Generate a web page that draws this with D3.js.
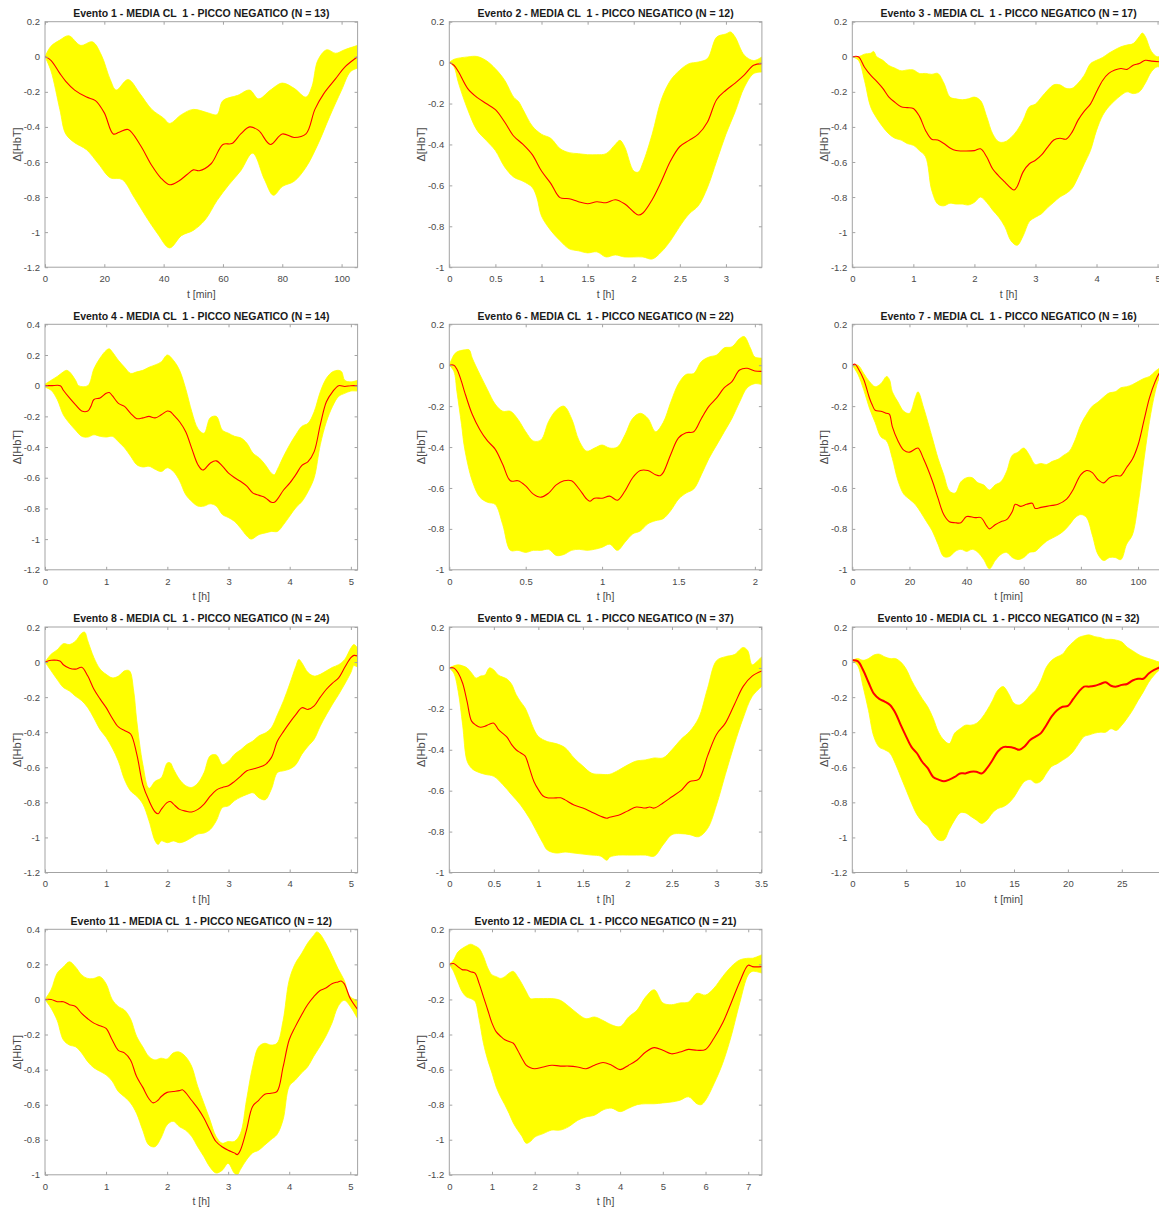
<!DOCTYPE html>
<html>
<head>
<meta charset="utf-8">
<script src="https://cdn.jsdelivr.net/npm/d3@7"></script>
<style>
  html, body { margin: 0; padding: 0; background: #fff; overflow: hidden; }
  svg { display: block; font-family: "Liberation Sans", Arial, Helvetica, sans-serif; }
</style>
</head>
<body>
<svg id="chart" width="1159" height="1209"></svg>
<script>
// ---------------- DATA ----------------
const titles = [
  "Evento 1 - MEDIA CL  1 - PICCO NEGATICO (N = 13)",
  "Evento 2 - MEDIA CL  1 - PICCO NEGATICO (N = 12)",
  "Evento 3 - MEDIA CL  1 - PICCO NEGATICO (N = 17)",
  "Evento 4 - MEDIA CL  1 - PICCO NEGATICO (N = 14)",
  "Evento 6 - MEDIA CL  1 - PICCO NEGATICO (N = 22)",
  "Evento 7 - MEDIA CL  1 - PICCO NEGATICO (N = 16)",
  "Evento 8 - MEDIA CL  1 - PICCO NEGATICO (N = 24)",
  "Evento 9 - MEDIA CL  1 - PICCO NEGATICO (N = 37)",
  "Evento 10 - MEDIA CL  1 - PICCO NEGATICO (N = 32)",
  "Evento 11 - MEDIA CL  1 - PICCO NEGATICO (N = 12)",
  "Evento 12 - MEDIA CL  1 - PICCO NEGATICO (N = 21)"
];
const xLabels = ["t [min]","t [h]","t [h]","t [h]","t [h]","t [min]","t [h]","t [h]","t [min]","t [h]","t [h]"];
const yLabel = "\u0394[HbT]";
const xMax = [105.4, 3.39, 5.12, 5.11, 2.046, 109.4, 5.11, 3.51, 29.0, 5.12, 7.32];
const xTickStep = [20, 0.5, 1, 1, 0.5, 20, 1, 0.5, 5, 1, 1];
const yMin = [-1.2, -1, -1.2, -1.2, -1, -1, -1.2, -1, -1.2, -1, -1.2];
const yMax = [0.2, 0.2, 0.2, 0.4, 0.2, 0.2, 0.2, 0.2, 0.2, 0.4, 0.2];
const yTickStep = 0.2;

// Evento 1
const mean1 = [[0,0],[2,-0.02],[5,-0.095],[7,-0.14],[10,-0.19],[14,-0.23],[17,-0.25],[20,-0.32],[23,-0.44],[25,-0.43],[28,-0.415],[32,-0.5],[36,-0.62],[39,-0.69],[42,-0.73],[45,-0.71],[48,-0.67],[50,-0.645],[52,-0.65],[56,-0.61],[60,-0.5],[63,-0.495],[66,-0.44],[69,-0.4],[72,-0.42],[76,-0.5],[80,-0.44],[84,-0.46],[88,-0.44],[91,-0.3],[94,-0.21],[98,-0.125],[101,-0.06],[105.4,0]];
const upper1 = [[0,0],[2,0.06],[5,0.095],[8,0.12],[12,0.065],[16,0.085],[19,0.01],[22,-0.13],[24,-0.19],[28,-0.13],[32,-0.21],[36,-0.3],[40,-0.35],[42,-0.38],[46,-0.33],[50,-0.3],[55,-0.32],[58,-0.33],[60,-0.25],[65,-0.22],[69,-0.19],[72,-0.24],[76,-0.19],[80,-0.15],[84,-0.18],[88,-0.23],[90,-0.17],[92,-0.02],[95,0.04],[98,0.02],[101,0.04],[105.4,0.065]];
const lower1 = [[0,0],[2,-0.08],[5,-0.3],[7,-0.44],[10,-0.49],[14,-0.53],[18,-0.61],[22,-0.69],[26,-0.7],[30,-0.8],[34,-0.91],[38,-1.01],[42,-1.09],[46,-1.02],[50,-0.99],[54,-0.93],[58,-0.82],[62,-0.73],[66,-0.65],[70,-0.55],[74,-0.7],[77,-0.79],[80,-0.74],[84,-0.71],[88,-0.63],[92,-0.5],[96,-0.34],[100,-0.19],[103,-0.085],[105.4,-0.065]];

// Evento 2
const mean2 = [[0,0],[0.05,-0.013],[0.1,-0.045],[0.2,-0.127],[0.3,-0.17],[0.4,-0.2],[0.5,-0.23],[0.6,-0.29],[0.7,-0.36],[0.8,-0.4],[0.9,-0.45],[1.0,-0.53],[1.1,-0.59],[1.2,-0.66],[1.3,-0.665],[1.4,-0.68],[1.5,-0.69],[1.6,-0.68],[1.7,-0.685],[1.8,-0.67],[1.9,-0.69],[2.0,-0.73],[2.05,-0.745],[2.1,-0.735],[2.2,-0.67],[2.3,-0.58],[2.4,-0.48],[2.5,-0.41],[2.6,-0.38],[2.7,-0.35],[2.8,-0.29],[2.9,-0.18],[3.0,-0.135],[3.1,-0.1],[3.2,-0.06],[3.3,-0.013],[3.39,-0.005]];
const upper2 = [[0,0],[0.05,0.016],[0.2,0.028],[0.3,0.03],[0.4,0.01],[0.5,-0.03],[0.6,-0.086],[0.7,-0.17],[0.75,-0.19],[0.8,-0.23],[0.9,-0.31],[1.0,-0.35],[1.1,-0.37],[1.2,-0.42],[1.3,-0.44],[1.4,-0.445],[1.5,-0.45],[1.6,-0.45],[1.7,-0.445],[1.8,-0.4],[1.85,-0.38],[1.9,-0.41],[2.0,-0.53],[2.05,-0.535],[2.1,-0.49],[2.2,-0.35],[2.3,-0.18],[2.4,-0.086],[2.5,-0.037],[2.6,-0.005],[2.7,0.003],[2.8,0.02],[2.9,0.125],[3.0,0.14],[3.05,0.15],[3.1,0.125],[3.2,0.036],[3.3,0.01],[3.39,0.028]];
const lower2 = [[0,0],[0.05,-0.02],[0.1,-0.1],[0.2,-0.23],[0.3,-0.33],[0.4,-0.38],[0.5,-0.43],[0.6,-0.51],[0.7,-0.56],[0.8,-0.58],[0.9,-0.61],[0.95,-0.66],[1.0,-0.75],[1.1,-0.82],[1.2,-0.87],[1.3,-0.91],[1.4,-0.92],[1.5,-0.93],[1.6,-0.925],[1.7,-0.95],[1.8,-0.94],[1.9,-0.95],[2.0,-0.95],[2.1,-0.95],[2.2,-0.96],[2.3,-0.925],[2.4,-0.87],[2.5,-0.8],[2.6,-0.74],[2.7,-0.7],[2.8,-0.61],[2.9,-0.48],[3.0,-0.35],[3.1,-0.24],[3.2,-0.12],[3.3,-0.054],[3.39,-0.046]];

// Evento 3
const mean3 = [[0,0],[0.1,0],[0.2,-0.06],[0.3,-0.105],[0.4,-0.14],[0.5,-0.18],[0.6,-0.23],[0.7,-0.26],[0.8,-0.285],[0.9,-0.29],[1.0,-0.295],[1.1,-0.34],[1.2,-0.42],[1.3,-0.47],[1.4,-0.475],[1.5,-0.495],[1.6,-0.52],[1.7,-0.535],[1.8,-0.537],[2.0,-0.535],[2.1,-0.525],[2.2,-0.57],[2.3,-0.64],[2.4,-0.68],[2.5,-0.715],[2.6,-0.75],[2.65,-0.76],[2.7,-0.74],[2.8,-0.655],[2.9,-0.61],[3.0,-0.59],[3.1,-0.56],[3.2,-0.515],[3.3,-0.475],[3.4,-0.465],[3.5,-0.47],[3.6,-0.43],[3.7,-0.36],[3.8,-0.31],[3.9,-0.27],[4.0,-0.2],[4.1,-0.135],[4.2,-0.095],[4.3,-0.076],[4.4,-0.067],[4.5,-0.072],[4.6,-0.048],[4.7,-0.038],[4.8,-0.02],[4.9,-0.025],[5.12,-0.03]];
const upper3 = [[0,0],[0.1,0],[0.2,0.015],[0.3,0.02],[0.35,0.03],[0.4,0],[0.5,-0.02],[0.6,-0.05],[0.7,-0.065],[0.8,-0.08],[0.9,-0.075],[1.0,-0.075],[1.1,-0.095],[1.2,-0.095],[1.3,-0.1],[1.4,-0.095],[1.5,-0.15],[1.6,-0.23],[1.7,-0.24],[1.8,-0.245],[1.9,-0.24],[2.0,-0.23],[2.1,-0.25],[2.2,-0.34],[2.3,-0.44],[2.4,-0.485],[2.5,-0.485],[2.6,-0.46],[2.7,-0.42],[2.8,-0.36],[2.9,-0.285],[3.0,-0.27],[3.1,-0.23],[3.2,-0.19],[3.3,-0.16],[3.4,-0.16],[3.5,-0.18],[3.6,-0.18],[3.7,-0.15],[3.8,-0.105],[3.9,-0.04],[4.0,-0.02],[4.1,-0.004],[4.2,0.02],[4.3,0.04],[4.4,0.057],[4.5,0.067],[4.6,0.075],[4.7,0.115],[4.75,0.135],[4.8,0.115],[4.9,0.03],[5.0,0],[5.12,0.02]];
const lower3 = [[0,0],[0.1,-0.02],[0.2,-0.135],[0.3,-0.285],[0.4,-0.35],[0.5,-0.4],[0.6,-0.44],[0.7,-0.465],[0.8,-0.475],[0.9,-0.495],[1.0,-0.505],[1.1,-0.535],[1.2,-0.57],[1.3,-0.76],[1.4,-0.84],[1.5,-0.85],[1.6,-0.835],[1.7,-0.84],[1.8,-0.84],[1.9,-0.845],[2.0,-0.83],[2.1,-0.8],[2.2,-0.83],[2.3,-0.875],[2.4,-0.915],[2.5,-0.97],[2.6,-1.05],[2.7,-1.075],[2.8,-1.02],[2.9,-0.94],[3.0,-0.915],[3.1,-0.895],[3.2,-0.86],[3.3,-0.83],[3.4,-0.8],[3.5,-0.78],[3.6,-0.75],[3.7,-0.685],[3.8,-0.61],[3.9,-0.535],[4.0,-0.42],[4.1,-0.335],[4.2,-0.285],[4.3,-0.25],[4.4,-0.22],[4.5,-0.2],[4.6,-0.21],[4.7,-0.2],[4.8,-0.15],[4.9,-0.085],[5.0,-0.057],[5.12,-0.076]];

// Evento 4
const mean4 = [[0,0],[0.1,0],[0.25,0],[0.3,-0.03],[0.4,-0.08],[0.5,-0.125],[0.6,-0.165],[0.7,-0.165],[0.75,-0.135],[0.8,-0.09],[0.9,-0.08],[1.0,-0.05],[1.05,-0.045],[1.1,-0.065],[1.2,-0.115],[1.3,-0.135],[1.4,-0.18],[1.5,-0.215],[1.6,-0.21],[1.7,-0.2],[1.8,-0.21],[1.9,-0.19],[2.0,-0.165],[2.05,-0.17],[2.1,-0.19],[2.2,-0.235],[2.3,-0.3],[2.4,-0.41],[2.5,-0.515],[2.58,-0.55],[2.7,-0.505],[2.8,-0.49],[2.9,-0.525],[3.0,-0.57],[3.1,-0.6],[3.2,-0.625],[3.3,-0.655],[3.4,-0.7],[3.5,-0.715],[3.6,-0.73],[3.7,-0.76],[3.75,-0.76],[3.8,-0.74],[3.9,-0.68],[4.0,-0.635],[4.1,-0.58],[4.2,-0.52],[4.3,-0.495],[4.4,-0.43],[4.5,-0.255],[4.6,-0.105],[4.7,-0.04],[4.8,0],[4.9,-0.005],[5.0,0],[5.11,0]];
const upper4 = [[0,0.01],[0.1,0.035],[0.2,0.06],[0.3,0.09],[0.35,0.1],[0.4,0.09],[0.5,0.035],[0.55,0],[0.7,0],[0.8,0.11],[0.9,0.18],[1.0,0.23],[1.05,0.24],[1.1,0.22],[1.2,0.165],[1.3,0.12],[1.4,0.08],[1.5,0.09],[1.6,0.1],[1.7,0.12],[1.8,0.135],[1.9,0.155],[2.0,0.2],[2.1,0.165],[2.2,0.1],[2.3,-0.02],[2.4,-0.17],[2.5,-0.28],[2.6,-0.31],[2.7,-0.21],[2.8,-0.2],[2.9,-0.29],[3.0,-0.31],[3.1,-0.33],[3.2,-0.34],[3.3,-0.375],[3.4,-0.44],[3.5,-0.47],[3.6,-0.515],[3.7,-0.57],[3.75,-0.58],[3.8,-0.545],[3.9,-0.46],[4.0,-0.385],[4.1,-0.32],[4.2,-0.265],[4.3,-0.245],[4.4,-0.17],[4.5,-0.04],[4.6,0.048],[4.7,0.09],[4.8,0.1],[4.85,0.09],[4.9,0.035],[5.0,0.025],[5.11,0.035]];
const lower4 = [[0,-0.01],[0.1,-0.03],[0.2,-0.09],[0.3,-0.19],[0.4,-0.245],[0.5,-0.29],[0.6,-0.33],[0.7,-0.335],[0.8,-0.32],[0.9,-0.33],[1.0,-0.335],[1.1,-0.33],[1.2,-0.365],[1.3,-0.405],[1.4,-0.46],[1.5,-0.515],[1.6,-0.53],[1.7,-0.525],[1.8,-0.545],[1.9,-0.56],[2.0,-0.535],[2.1,-0.56],[2.2,-0.62],[2.3,-0.71],[2.4,-0.755],[2.5,-0.785],[2.6,-0.785],[2.7,-0.77],[2.8,-0.785],[2.9,-0.84],[3.0,-0.86],[3.1,-0.885],[3.2,-0.93],[3.3,-0.98],[3.37,-1.0],[3.5,-0.97],[3.6,-0.96],[3.7,-0.95],[3.8,-0.95],[3.9,-0.905],[4.0,-0.85],[4.1,-0.795],[4.2,-0.755],[4.3,-0.69],[4.4,-0.6],[4.5,-0.385],[4.6,-0.235],[4.7,-0.135],[4.8,-0.07],[4.9,-0.05],[5.0,-0.035],[5.11,-0.035]];

// Evento 6
const mean6 = [[0,0],[0.03,0],[0.05,-0.02],[0.08,-0.08],[0.1,-0.13],[0.15,-0.24],[0.2,-0.315],[0.25,-0.37],[0.3,-0.41],[0.35,-0.485],[0.4,-0.565],[0.45,-0.565],[0.5,-0.59],[0.55,-0.63],[0.6,-0.645],[0.65,-0.625],[0.7,-0.585],[0.75,-0.565],[0.8,-0.565],[0.85,-0.605],[0.9,-0.655],[0.92,-0.665],[0.95,-0.65],[1.0,-0.65],[1.05,-0.64],[1.1,-0.66],[1.15,-0.615],[1.2,-0.55],[1.25,-0.515],[1.3,-0.515],[1.35,-0.535],[1.38,-0.54],[1.4,-0.525],[1.45,-0.435],[1.5,-0.355],[1.55,-0.33],[1.6,-0.325],[1.65,-0.26],[1.7,-0.2],[1.75,-0.16],[1.8,-0.11],[1.85,-0.08],[1.9,-0.023],[1.95,-0.015],[2.0,-0.028],[2.046,-0.03]];
const upper6 = [[0,0],[0.03,0.05],[0.05,0.065],[0.1,0.075],[0.13,0.075],[0.15,0.035],[0.2,-0.045],[0.25,-0.12],[0.3,-0.19],[0.35,-0.225],[0.4,-0.225],[0.45,-0.265],[0.5,-0.325],[0.55,-0.37],[0.6,-0.365],[0.65,-0.275],[0.7,-0.22],[0.75,-0.2],[0.8,-0.26],[0.85,-0.37],[0.9,-0.42],[0.95,-0.405],[1.0,-0.39],[1.05,-0.405],[1.1,-0.4],[1.15,-0.34],[1.2,-0.26],[1.25,-0.235],[1.3,-0.26],[1.35,-0.325],[1.4,-0.28],[1.45,-0.18],[1.5,-0.09],[1.55,-0.045],[1.6,-0.04],[1.65,0.018],[1.7,0.04],[1.75,0.05],[1.8,0.085],[1.85,0.09],[1.9,0.13],[1.93,0.14],[1.97,0.085],[2.0,0.04],[2.046,0.035]];
const lower6 = [[0,0],[0.03,-0.03],[0.05,-0.13],[0.08,-0.29],[0.1,-0.405],[0.15,-0.565],[0.2,-0.645],[0.25,-0.67],[0.3,-0.68],[0.35,-0.78],[0.4,-0.905],[0.45,-0.905],[0.5,-0.915],[0.55,-0.905],[0.6,-0.905],[0.65,-0.9],[0.7,-0.93],[0.75,-0.925],[0.8,-0.905],[0.85,-0.9],[0.9,-0.905],[0.95,-0.9],[1.0,-0.89],[1.05,-0.875],[1.1,-0.905],[1.15,-0.865],[1.2,-0.825],[1.25,-0.81],[1.3,-0.775],[1.35,-0.76],[1.4,-0.75],[1.45,-0.71],[1.5,-0.655],[1.55,-0.625],[1.6,-0.605],[1.65,-0.535],[1.7,-0.455],[1.75,-0.39],[1.8,-0.325],[1.85,-0.26],[1.9,-0.18],[1.95,-0.11],[2.0,-0.09],[2.046,-0.095]];

// Evento 7
const mean7 = [[0,0],[1,0.005],[2,-0.015],[4,-0.07],[6,-0.16],[7,-0.195],[8,-0.22],[10,-0.225],[12,-0.235],[13,-0.24],[14,-0.3],[16,-0.37],[18,-0.415],[20,-0.425],[22,-0.41],[23,-0.405],[25,-0.46],[28,-0.565],[30,-0.65],[32,-0.73],[34,-0.765],[36,-0.77],[38,-0.77],[40,-0.74],[43,-0.745],[45,-0.745],[47,-0.785],[48,-0.8],[50,-0.78],[52,-0.765],[54,-0.755],[56,-0.715],[57,-0.68],[59,-0.69],[61,-0.68],[63,-0.675],[64,-0.7],[66,-0.695],[68,-0.69],[70,-0.685],[72,-0.68],[75,-0.655],[77,-0.615],[80,-0.535],[82,-0.515],[84,-0.525],[86,-0.56],[88,-0.575],[90,-0.55],[92,-0.54],[94,-0.54],[96,-0.5],[98,-0.46],[100,-0.39],[102,-0.275],[104,-0.16],[106,-0.08],[107.4,-0.04],[109.4,-0.01]];
const upper7 = [[0,0],[2,0],[4,-0.04],[6,-0.08],[8,-0.105],[10,-0.09],[12,-0.055],[13,-0.07],[14,-0.13],[16,-0.18],[18,-0.225],[20,-0.235],[22,-0.16],[23,-0.13],[25,-0.21],[28,-0.355],[30,-0.455],[32,-0.535],[34,-0.615],[36,-0.625],[38,-0.57],[40,-0.55],[42,-0.55],[44,-0.575],[46,-0.585],[48,-0.61],[50,-0.585],[52,-0.57],[54,-0.52],[56,-0.44],[58,-0.425],[60,-0.405],[62,-0.44],[64,-0.485],[66,-0.48],[68,-0.485],[70,-0.47],[72,-0.46],[74,-0.44],[76,-0.42],[78,-0.365],[80,-0.29],[82,-0.24],[84,-0.2],[86,-0.18],[88,-0.155],[90,-0.135],[92,-0.13],[94,-0.11],[96,-0.105],[98,-0.095],[100,-0.08],[102,-0.065],[104,-0.055],[106,-0.03],[107.4,-0.015],[109.4,0]];
const lower7 = [[0,0],[2,-0.045],[4,-0.12],[6,-0.21],[8,-0.28],[10,-0.35],[12,-0.37],[14,-0.455],[16,-0.565],[18,-0.63],[20,-0.655],[22,-0.68],[24,-0.72],[26,-0.765],[28,-0.81],[30,-0.875],[32,-0.935],[34,-0.935],[36,-0.91],[38,-0.9],[40,-0.91],[42,-0.9],[44,-0.915],[46,-0.95],[48,-0.995],[50,-0.955],[52,-0.925],[54,-0.915],[56,-0.94],[58,-0.95],[60,-0.94],[62,-0.915],[64,-0.91],[66,-0.885],[68,-0.86],[70,-0.845],[72,-0.83],[74,-0.81],[76,-0.78],[78,-0.745],[80,-0.73],[82,-0.745],[84,-0.83],[86,-0.925],[88,-0.955],[90,-0.94],[92,-0.94],[94,-0.95],[96,-0.875],[98,-0.83],[100,-0.68],[102,-0.47],[104,-0.275],[106,-0.13],[107.4,-0.065],[109.4,-0.03]];

// Evento 8
const mean8 = [[0,0],[0.1,0.01],[0.2,0.01],[0.25,0.005],[0.3,-0.015],[0.4,-0.035],[0.5,-0.04],[0.6,-0.03],[0.7,-0.08],[0.8,-0.155],[0.9,-0.21],[1.0,-0.26],[1.1,-0.32],[1.2,-0.37],[1.3,-0.39],[1.4,-0.41],[1.5,-0.525],[1.6,-0.7],[1.7,-0.79],[1.8,-0.855],[1.85,-0.865],[1.9,-0.84],[2.0,-0.8],[2.05,-0.795],[2.1,-0.81],[2.2,-0.84],[2.3,-0.85],[2.4,-0.855],[2.5,-0.84],[2.6,-0.81],[2.7,-0.765],[2.8,-0.73],[2.9,-0.715],[3.0,-0.705],[3.1,-0.68],[3.2,-0.65],[3.3,-0.62],[3.4,-0.61],[3.5,-0.6],[3.6,-0.585],[3.7,-0.545],[3.8,-0.45],[3.9,-0.395],[4.0,-0.345],[4.1,-0.3],[4.2,-0.26],[4.3,-0.27],[4.4,-0.25],[4.5,-0.2],[4.6,-0.155],[4.7,-0.12],[4.8,-0.09],[4.9,-0.03],[5.0,0.025],[5.05,0.038],[5.11,0.035]];
const upper8 = [[0,0],[0.1,0.045],[0.2,0.07],[0.3,0.105],[0.4,0.1],[0.5,0.12],[0.6,0.165],[0.65,0.17],[0.7,0.12],[0.8,0.025],[0.9,-0.04],[1.0,-0.07],[1.1,-0.09],[1.2,-0.08],[1.3,-0.05],[1.38,-0.05],[1.45,-0.165],[1.5,-0.335],[1.6,-0.585],[1.7,-0.72],[1.8,-0.68],[1.9,-0.66],[2.0,-0.575],[2.05,-0.575],[2.1,-0.61],[2.2,-0.67],[2.3,-0.705],[2.4,-0.715],[2.5,-0.69],[2.6,-0.63],[2.7,-0.535],[2.8,-0.53],[2.9,-0.585],[3.0,-0.565],[3.1,-0.525],[3.2,-0.5],[3.3,-0.47],[3.4,-0.45],[3.5,-0.42],[3.6,-0.405],[3.7,-0.375],[3.8,-0.3],[3.9,-0.22],[4.0,-0.125],[4.1,-0.025],[4.15,0.015],[4.2,-0.005],[4.3,-0.06],[4.4,-0.08],[4.5,-0.07],[4.6,-0.05],[4.7,-0.03],[4.8,-0.015],[4.9,0.015],[5.0,0.08],[5.05,0.1],[5.11,0.08]];
const lower8 = [[0,0],[0.1,-0.05],[0.2,-0.1],[0.3,-0.145],[0.4,-0.165],[0.5,-0.195],[0.6,-0.22],[0.7,-0.26],[0.8,-0.32],[0.9,-0.385],[1.0,-0.43],[1.1,-0.49],[1.2,-0.565],[1.3,-0.67],[1.4,-0.735],[1.5,-0.765],[1.6,-0.81],[1.7,-0.905],[1.8,-1.02],[1.85,-1.04],[1.9,-1.02],[2.0,-1.03],[2.1,-1.02],[2.2,-1.03],[2.3,-1.02],[2.4,-1.0],[2.5,-0.98],[2.6,-0.975],[2.7,-0.955],[2.8,-0.905],[2.9,-0.83],[3.0,-0.82],[3.1,-0.79],[3.2,-0.77],[3.3,-0.755],[3.4,-0.745],[3.5,-0.775],[3.6,-0.785],[3.7,-0.725],[3.8,-0.63],[3.9,-0.62],[4.0,-0.61],[4.1,-0.585],[4.2,-0.525],[4.3,-0.48],[4.4,-0.44],[4.5,-0.365],[4.6,-0.3],[4.7,-0.24],[4.8,-0.185],[4.9,-0.125],[5.0,-0.06],[5.05,-0.02],[5.11,-0.03]];

// Evento 9
const mean9 = [[0,0],[0.05,0],[0.1,-0.025],[0.15,-0.075],[0.2,-0.165],[0.25,-0.26],[0.3,-0.28],[0.35,-0.29],[0.4,-0.285],[0.45,-0.275],[0.5,-0.27],[0.55,-0.3],[0.6,-0.32],[0.65,-0.34],[0.7,-0.375],[0.75,-0.4],[0.8,-0.415],[0.85,-0.43],[0.9,-0.49],[0.95,-0.555],[1.0,-0.595],[1.05,-0.625],[1.1,-0.635],[1.2,-0.635],[1.25,-0.635],[1.3,-0.645],[1.4,-0.67],[1.5,-0.685],[1.6,-0.705],[1.7,-0.725],[1.77,-0.735],[1.8,-0.73],[1.9,-0.72],[2.0,-0.7],[2.1,-0.68],[2.2,-0.685],[2.25,-0.68],[2.3,-0.685],[2.4,-0.66],[2.5,-0.63],[2.6,-0.6],[2.7,-0.555],[2.8,-0.545],[2.9,-0.43],[3.0,-0.325],[3.1,-0.27],[3.2,-0.18],[3.3,-0.09],[3.4,-0.04],[3.51,-0.015]];
const upper9 = [[0,0],[0.05,0.01],[0.1,0.015],[0.15,0.01],[0.2,0],[0.25,-0.025],[0.3,-0.05],[0.35,-0.04],[0.4,-0.035],[0.45,0],[0.5,-0.01],[0.55,-0.035],[0.6,-0.045],[0.65,-0.055],[0.7,-0.08],[0.75,-0.13],[0.8,-0.165],[0.85,-0.195],[0.9,-0.245],[0.95,-0.3],[1.0,-0.335],[1.1,-0.36],[1.2,-0.37],[1.3,-0.39],[1.4,-0.44],[1.5,-0.48],[1.6,-0.515],[1.7,-0.52],[1.8,-0.52],[1.9,-0.5],[2.0,-0.475],[2.1,-0.455],[2.2,-0.45],[2.3,-0.44],[2.4,-0.44],[2.5,-0.4],[2.6,-0.35],[2.7,-0.31],[2.8,-0.245],[2.9,-0.1],[3.0,0.035],[3.1,0.055],[3.2,0.065],[3.3,0.1],[3.35,0.085],[3.4,0.015],[3.45,0.03],[3.51,0.055]];
const lower9 = [[0,0],[0.05,-0.025],[0.1,-0.115],[0.15,-0.28],[0.2,-0.455],[0.25,-0.49],[0.3,-0.505],[0.4,-0.52],[0.5,-0.53],[0.6,-0.57],[0.7,-0.62],[0.8,-0.67],[0.9,-0.735],[1.0,-0.815],[1.05,-0.855],[1.1,-0.89],[1.2,-0.905],[1.3,-0.9],[1.4,-0.905],[1.5,-0.91],[1.6,-0.915],[1.7,-0.92],[1.77,-0.94],[1.8,-0.925],[1.9,-0.915],[2.0,-0.915],[2.1,-0.915],[2.2,-0.915],[2.3,-0.92],[2.4,-0.865],[2.5,-0.815],[2.6,-0.81],[2.7,-0.815],[2.8,-0.825],[2.9,-0.785],[3.0,-0.67],[3.1,-0.52],[3.2,-0.375],[3.3,-0.245],[3.4,-0.14],[3.51,-0.09]];

// Evento 10
const mean10 = [[0,0.01],[0.5,0.005],[1,-0.045],[1.5,-0.115],[2,-0.18],[2.5,-0.21],[3,-0.225],[3.5,-0.245],[4,-0.29],[4.5,-0.36],[5,-0.425],[5.5,-0.485],[6,-0.52],[6.5,-0.57],[7,-0.605],[7.5,-0.655],[8,-0.67],[8.5,-0.68],[9,-0.67],[9.5,-0.655],[10,-0.635],[10.5,-0.635],[11,-0.625],[11.5,-0.625],[12,-0.635],[12.5,-0.605],[13,-0.56],[13.5,-0.51],[14,-0.485],[14.5,-0.485],[15,-0.49],[15.5,-0.5],[16,-0.48],[16.5,-0.445],[17,-0.425],[17.5,-0.405],[18,-0.36],[18.5,-0.31],[19,-0.275],[19.5,-0.255],[20,-0.25],[20.5,-0.21],[21,-0.17],[21.5,-0.14],[22,-0.14],[22.5,-0.135],[23,-0.125],[23.5,-0.115],[24,-0.135],[24.5,-0.14],[25,-0.13],[25.5,-0.125],[26,-0.105],[26.5,-0.095],[27,-0.095],[27.5,-0.065],[28,-0.045],[28.5,-0.03],[29,-0.01]];
const upper10 = [[0,0.01],[0.5,0.02],[1,0.01],[1.5,0.02],[2,0.04],[2.5,0.045],[3,0.03],[3.5,0.02],[4,0.02],[4.5,0],[5,-0.04],[5.5,-0.105],[6,-0.16],[6.5,-0.21],[7,-0.255],[7.5,-0.32],[8,-0.4],[8.5,-0.445],[9,-0.465],[9.5,-0.405],[10,-0.38],[10.5,-0.36],[11,-0.36],[11.5,-0.35],[12,-0.32],[12.5,-0.275],[13,-0.22],[13.5,-0.16],[14,-0.14],[14.5,-0.18],[15,-0.235],[15.5,-0.245],[16,-0.225],[16.5,-0.19],[17,-0.16],[17.5,-0.105],[18,-0.03],[18.5,0.01],[19,0.03],[19.5,0.045],[20,0.085],[20.5,0.115],[21,0.14],[21.5,0.15],[22,0.155],[22.5,0.145],[23,0.14],[23.5,0.13],[24,0.13],[24.5,0.125],[25,0.115],[25.5,0.085],[26,0.065],[26.5,0.045],[27,0.03],[27.5,0.02],[28,0.01],[28.5,0],[29,0]];
const lower10 = [[0,0.01],[0.5,-0.02],[1,-0.14],[1.5,-0.275],[2,-0.425],[2.5,-0.485],[3,-0.5],[3.5,-0.52],[4,-0.58],[4.5,-0.655],[5,-0.73],[5.5,-0.805],[6,-0.87],[6.5,-0.91],[7,-0.935],[7.5,-0.985],[8,-1.015],[8.5,-1.015],[9,-0.955],[9.5,-0.9],[10,-0.86],[10.5,-0.86],[11,-0.88],[11.5,-0.9],[12,-0.92],[12.5,-0.9],[13,-0.86],[13.5,-0.835],[14,-0.825],[14.5,-0.805],[15,-0.77],[15.5,-0.72],[16,-0.68],[16.5,-0.67],[17,-0.69],[17.5,-0.68],[18,-0.635],[18.5,-0.595],[19,-0.58],[19.5,-0.56],[20,-0.54],[20.5,-0.51],[21,-0.465],[21.5,-0.425],[22,-0.415],[22.5,-0.405],[23,-0.4],[23.5,-0.4],[24,-0.38],[24.5,-0.39],[25,-0.36],[25.5,-0.32],[26,-0.275],[26.5,-0.22],[27,-0.17],[27.5,-0.115],[28,-0.075],[28.5,-0.045],[29,-0.03]];

// Evento 11
const mean11 = [[0,0],[0.1,0],[0.2,-0.013],[0.3,-0.013],[0.4,-0.03],[0.5,-0.04],[0.6,-0.08],[0.7,-0.11],[0.8,-0.135],[0.9,-0.15],[1.0,-0.165],[1.1,-0.23],[1.2,-0.29],[1.3,-0.305],[1.4,-0.345],[1.5,-0.44],[1.6,-0.5],[1.7,-0.565],[1.77,-0.59],[1.85,-0.575],[1.9,-0.555],[2.0,-0.53],[2.1,-0.525],[2.2,-0.52],[2.25,-0.515],[2.3,-0.53],[2.4,-0.575],[2.5,-0.62],[2.6,-0.675],[2.7,-0.745],[2.8,-0.81],[2.9,-0.84],[3.0,-0.86],[3.1,-0.875],[3.15,-0.885],[3.2,-0.86],[3.3,-0.745],[3.4,-0.61],[3.5,-0.575],[3.6,-0.54],[3.7,-0.535],[3.8,-0.525],[3.9,-0.385],[4.0,-0.23],[4.1,-0.155],[4.2,-0.09],[4.3,-0.03],[4.4,0.015],[4.5,0.05],[4.6,0.065],[4.7,0.09],[4.8,0.1],[4.85,0.105],[4.9,0.09],[5.0,0.005],[5.12,-0.057]];
const upper11 = [[0,0],[0.1,0.055],[0.2,0.15],[0.3,0.185],[0.4,0.215],[0.5,0.185],[0.6,0.14],[0.7,0.12],[0.8,0.12],[0.9,0.13],[1.0,0.09],[1.1,0],[1.2,-0.04],[1.3,-0.06],[1.4,-0.11],[1.5,-0.21],[1.6,-0.27],[1.7,-0.325],[1.8,-0.345],[1.9,-0.335],[2.0,-0.34],[2.1,-0.305],[2.2,-0.3],[2.3,-0.325],[2.4,-0.38],[2.5,-0.495],[2.6,-0.59],[2.7,-0.685],[2.8,-0.78],[2.9,-0.82],[3.0,-0.81],[3.1,-0.81],[3.2,-0.765],[3.3,-0.575],[3.4,-0.385],[3.5,-0.27],[3.6,-0.25],[3.7,-0.26],[3.8,-0.25],[3.9,-0.12],[4.0,0.11],[4.1,0.205],[4.2,0.26],[4.3,0.32],[4.4,0.365],[4.45,0.385],[4.5,0.375],[4.6,0.32],[4.7,0.25],[4.8,0.175],[4.9,0.11],[5.0,0.015],[5.12,-0.005]];
const lower11 = [[0,0],[0.1,-0.05],[0.2,-0.12],[0.3,-0.23],[0.4,-0.26],[0.5,-0.27],[0.6,-0.305],[0.7,-0.355],[0.8,-0.39],[0.9,-0.41],[1.0,-0.43],[1.1,-0.465],[1.2,-0.525],[1.3,-0.555],[1.4,-0.59],[1.5,-0.65],[1.6,-0.745],[1.7,-0.83],[1.8,-0.84],[1.9,-0.79],[2.0,-0.715],[2.1,-0.695],[2.2,-0.725],[2.3,-0.745],[2.4,-0.78],[2.5,-0.84],[2.6,-0.895],[2.7,-0.955],[2.8,-0.99],[2.9,-0.975],[3.0,-0.935],[3.1,-0.99],[3.15,-1.0],[3.2,-0.97],[3.3,-0.915],[3.4,-0.875],[3.5,-0.86],[3.6,-0.83],[3.7,-0.8],[3.8,-0.77],[3.9,-0.685],[4.0,-0.495],[4.1,-0.46],[4.2,-0.42],[4.3,-0.385],[4.4,-0.325],[4.5,-0.27],[4.6,-0.21],[4.7,-0.135],[4.8,-0.04],[4.9,-0.005],[5.0,-0.04],[5.12,-0.11]];

// Evento 12
const mean12 = [[0,0],[0.1,0.005],[0.2,-0.013],[0.3,-0.03],[0.4,-0.032],[0.5,-0.042],[0.6,-0.05],[0.7,-0.11],[0.8,-0.185],[0.9,-0.26],[1.0,-0.335],[1.1,-0.385],[1.2,-0.41],[1.3,-0.43],[1.4,-0.44],[1.5,-0.45],[1.6,-0.49],[1.7,-0.535],[1.8,-0.575],[1.9,-0.59],[2.0,-0.595],[2.2,-0.585],[2.4,-0.575],[2.6,-0.58],[2.8,-0.58],[3.0,-0.585],[3.2,-0.595],[3.4,-0.575],[3.6,-0.56],[3.8,-0.575],[4.0,-0.6],[4.2,-0.575],[4.4,-0.545],[4.6,-0.5],[4.8,-0.475],[5.0,-0.49],[5.2,-0.51],[5.4,-0.5],[5.6,-0.485],[5.8,-0.49],[6.0,-0.485],[6.2,-0.42],[6.4,-0.335],[6.6,-0.22],[6.8,-0.1],[7.0,-0.005],[7.1,-0.013],[7.32,-0.013]];
const upper12 = [[0,0],[0.1,0.025],[0.2,0.07],[0.3,0.09],[0.4,0.105],[0.5,0.115],[0.6,0.105],[0.7,0.09],[0.8,0.045],[0.9,-0.02],[1.0,-0.06],[1.1,-0.07],[1.2,-0.08],[1.3,-0.07],[1.4,-0.05],[1.5,-0.04],[1.6,-0.07],[1.7,-0.11],[1.8,-0.155],[1.9,-0.195],[2.0,-0.195],[2.2,-0.195],[2.4,-0.195],[2.6,-0.205],[2.8,-0.24],[3.0,-0.28],[3.2,-0.31],[3.4,-0.3],[3.6,-0.32],[3.8,-0.345],[4.0,-0.355],[4.2,-0.3],[4.4,-0.26],[4.6,-0.185],[4.8,-0.145],[5.0,-0.22],[5.2,-0.23],[5.4,-0.22],[5.6,-0.215],[5.8,-0.165],[6.0,-0.175],[6.2,-0.135],[6.4,-0.07],[6.6,-0.013],[6.8,0.025],[7.0,0.035],[7.1,0.035],[7.32,0.055]];
const lower12 = [[0,0],[0.1,-0.04],[0.2,-0.1],[0.3,-0.155],[0.4,-0.185],[0.5,-0.195],[0.6,-0.21],[0.7,-0.315],[0.8,-0.45],[0.9,-0.545],[1.0,-0.62],[1.1,-0.7],[1.2,-0.755],[1.3,-0.8],[1.4,-0.85],[1.5,-0.905],[1.6,-0.945],[1.7,-0.98],[1.8,-1.02],[1.9,-1.01],[2.0,-0.985],[2.2,-0.965],[2.4,-0.945],[2.6,-0.945],[2.8,-0.925],[3.0,-0.89],[3.2,-0.87],[3.4,-0.86],[3.6,-0.83],[3.8,-0.82],[4.0,-0.84],[4.2,-0.82],[4.4,-0.8],[4.6,-0.795],[4.8,-0.795],[5.0,-0.79],[5.2,-0.785],[5.4,-0.775],[5.6,-0.755],[5.8,-0.795],[5.9,-0.8],[6.0,-0.775],[6.2,-0.68],[6.4,-0.565],[6.6,-0.41],[6.8,-0.22],[7.0,-0.06],[7.1,-0.04],[7.32,-0.05]];

const meanSeries = [mean1, mean2, mean3, mean4, mean6, mean7, mean8, mean9, mean10, mean11, mean12];
const upperSeries = [upper1, upper2, upper3, upper4, upper6, upper7, upper8, upper9, upper10, upper11, upper12];
const lowerSeries = [lower1, lower2, lower3, lower4, lower6, lower7, lower8, lower9, lower10, lower11, lower12];

// ---------------- LAYOUT / STYLE ----------------
const colLeft = [45, 449.3, 852.3];
const rowTop = [21.7, 324.3, 627, 929.3];
const W = 312.6, H = 245.5;
const axisColor = "#a3a3a3";
const labelColor = "#4a4a4a";
const bandColor = "#ffff00";
const lineColor = "#ff0000";

const fmt = v => String(+v.toFixed(2));
const svg = d3.select("#chart");

titles.forEach((title, i) => {
  const col = i % 3, row = Math.floor(i / 3);
  const left = colLeft[col], top = rowTop[row];
  const g = svg.append("g").attr("transform", `translate(${left},${top})`);

  const x = d3.scaleLinear().domain([0, xMax[i]]).range([0, W]);
  const y = d3.scaleLinear().domain([yMin[i], yMax[i]]).range([H, 0]);

  const clipId = "clip" + i;
  g.append("clipPath").attr("id", clipId)
    .append("rect").attr("width", W).attr("height", H);

  const plot = g.append("g").attr("clip-path", `url(#${clipId})`);

  const line = d3.line().x(d => x(d[0])).y(d => y(d[1])).curve(d3.curveCatmullRom.alpha(0.5));
  const up = line(upperSeries[i]);
  const lo = line(lowerSeries[i].slice().reverse());
  plot.append("path")
    .attr("d", up + "L" + lo.slice(1) + "Z")
    .attr("fill", bandColor)
    .attr("stroke", bandColor)
    .attr("stroke-width", 0.8);

  plot.append("path")
    .attr("d", line(meanSeries[i]))
    .attr("fill", "none")
    .attr("stroke", lineColor)
    .attr("stroke-width", i === 8 ? 2 : 1.1);

  const xTicks = d3.range(0, xMax[i] + 1e-9, xTickStep[i]);
  const yTicks = d3.range(Math.round(yMin[i] / yTickStep), Math.round(yMax[i] / yTickStep) + 1).map(k => +(k * yTickStep).toFixed(2));

  const styleAxis = sel => {
    sel.select(".domain").remove();
    sel.selectAll(".tick line").attr("stroke", axisColor);
    sel.selectAll(".tick text").attr("fill", labelColor).attr("font-size", "9.5px")
      .attr("font-family", '"Liberation Sans", Arial, sans-serif');
  };

  g.append("g").attr("transform", `translate(0,${H})`)
    .call(d3.axisBottom(x).tickValues(xTicks).tickFormat(fmt).tickSizeInner(-3).tickSizeOuter(0).tickPadding(8))
    .call(styleAxis);
  g.append("g")
    .call(d3.axisTop(x).tickValues(xTicks).tickFormat("").tickSizeInner(-3).tickSizeOuter(0))
    .call(styleAxis);
  g.append("g")
    .call(d3.axisLeft(y).tickValues(yTicks).tickFormat(fmt).tickSizeInner(-3).tickSizeOuter(0).tickPadding(5))
    .call(styleAxis);
  g.append("g").attr("transform", `translate(${W},0)`)
    .call(d3.axisRight(y).tickValues(yTicks).tickFormat("").tickSizeInner(-3).tickSizeOuter(0))
    .call(styleAxis);

  g.append("rect").attr("width", W).attr("height", H)
    .attr("fill", "none").attr("stroke", axisColor).attr("stroke-width", 1);

  g.append("text")
    .attr("x", W / 2).attr("y", -4.6)
    .attr("text-anchor", "middle")
    .attr("font-size", "10.5px").attr("font-weight", "bold")
    .attr("fill", "#1a1a1a")
    .style("white-space", "pre")
    .text(title);

  g.append("text")
    .attr("x", W / 2).attr("y", H + 30.5)
    .attr("text-anchor", "middle")
    .attr("font-size", "10.5px").attr("fill", labelColor)
    .text(xLabels[i]);

  g.append("text")
    .attr("transform", `translate(-24,${H / 2}) rotate(-90)`)
    .attr("text-anchor", "middle")
    .attr("font-size", "11px").attr("fill", labelColor)
    .text(yLabel);
});
</script>
</body>
</html>
